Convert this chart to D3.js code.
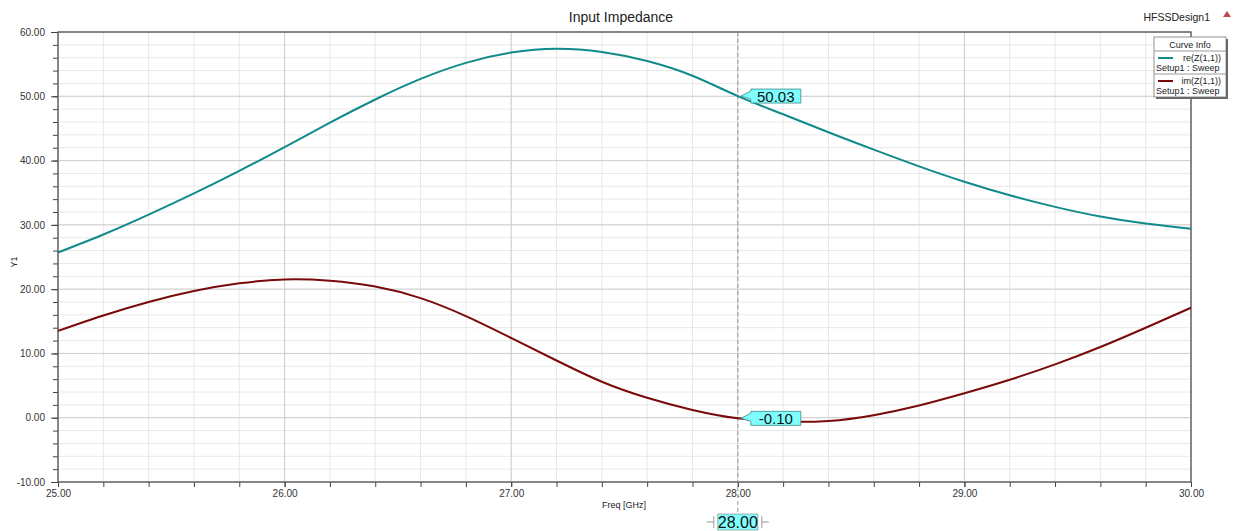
<html>
<head>
<meta charset="utf-8">
<script src="https://cdn.jsdelivr.net/npm/d3@7"></script>
<style>
body { margin:0; background:#fff; }
text { font-family: "Liberation Sans", Arial, sans-serif; }
</style>
</head>
<body>
<svg id="chart" width="1235" height="531"></svg>
<script>
// frequency samples (GHz)
var freq = [25.0,25.2,25.4,25.6,25.8,26.0,26.2,26.4,26.6,26.8,27.0,27.2,27.4,27.6,27.8,28.0,28.2,28.4,28.6,28.8,29.0,29.2,29.4,29.6,29.8,30.0];
// re(Z(1,1))
var reZ = [25.7,28.5,31.6,34.9,38.4,42.1,45.9,49.5,52.7,55.2,56.8,57.4,56.9,55.5,53.2,50.03,47.2,44.4,41.7,39.1,36.7,34.6,32.8,31.3,30.2,29.4];
// im(Z(1,1))
var imZ = [13.5,15.9,18.0,19.7,20.9,21.5,21.3,20.4,18.6,15.8,12.4,8.9,5.6,3.1,1.2,-0.10,-0.6,-0.5,0.4,1.9,3.8,5.9,8.3,11.0,14.0,17.1];
var xMajor = [25,26,27,28,29,30];
var yMajor = [-10,0,10,20,30,40,50,60];
var markerFreq = 28.0;

var width = 1235, height = 531;
var margin = {top: 32, right: 44, bottom: 49, left: 58};
var svg = d3.select("#chart");

var x = d3.scaleLinear().domain([25, 30]).range([margin.left, width - margin.right]);
var y = d3.scaleLinear().domain([-10, 60]).range([height - margin.bottom, margin.top]);

var xMinor = d3.range(25, 30.001, 0.2);
var yMinor = d3.range(-10, 60.001, 2);

// grid
var grid = svg.append("g");
grid.selectAll(".vmin").data(xMinor).enter().append("line")
	.attr("x1", d => x(d)).attr("x2", d => x(d))
	.attr("y1", y(60)).attr("y2", y(-10))
	.style("stroke", "#e8e8e8");
grid.selectAll(".hmin").data(yMinor).enter().append("line")
	.attr("y1", d => y(d)).attr("y2", d => y(d))
	.attr("x1", x(25)).attr("x2", x(30))
	.style("stroke", "#e8e8e8");
grid.selectAll(".vmaj").data(xMajor).enter().append("line")
	.attr("x1", d => x(d)).attr("x2", d => x(d))
	.attr("y1", y(60)).attr("y2", y(-10))
	.style("stroke", "#cfcfcf");
grid.selectAll(".hmaj").data(yMajor).enter().append("line")
	.attr("y1", d => y(d)).attr("y2", d => y(d))
	.attr("x1", x(25)).attr("x2", x(30))
	.style("stroke", "#cfcfcf");

// axes (plain hyphen minus like the original)
var fmt = d3.formatLocale({decimal: ".", thousands: ",", grouping: [3], currency: ["", ""], minus: "-"}).format(".2f");
function styleAxis(g) {
	g.select(".domain").remove();
	g.selectAll("line").style("stroke", "#444");
	g.selectAll("text").style("font-size", "10px").style("fill", "#333")
		.style("font-family", "'Liberation Sans', Arial, sans-serif");
}
svg.append("g").attr("transform", "translate(" + margin.left + ",0)")
	.call(d3.axisLeft(y).tickValues(yMinor).tickSize(5).tickFormat(""))
	.call(styleAxis);
svg.append("g").attr("transform", "translate(" + margin.left + ",0)")
	.call(d3.axisLeft(y).tickValues(yMajor).tickSize(7).tickPadding(6).tickFormat(fmt))
	.call(styleAxis);
svg.append("g").attr("transform", "translate(0," + y(-10) + ")")
	.call(d3.axisBottom(x).tickValues(xMinor).tickSize(5).tickFormat(""))
	.call(styleAxis);
svg.append("g").attr("transform", "translate(0," + y(-10) + ")")
	.call(d3.axisBottom(x).tickValues(xMajor).tickSize(5).tickPadding(3).tickFormat(fmt))
	.call(styleAxis);

// frame
svg.append("rect")
	.attr("x", x(25)).attr("y", y(60))
	.attr("width", x(30) - x(25)).attr("height", y(-10) - y(60))
	.style("fill", "none").style("stroke", "#555").style("stroke-width", 1.3);

// marker line
svg.append("line")
	.attr("x1", x(markerFreq)).attr("x2", x(markerFreq))
	.attr("y1", y(60)).attr("y2", 530)
	.style("stroke", "#999").style("stroke-dasharray", "4,3");

// curves
var line = d3.line()
	.x((d, i) => x(freq[i]))
	.y(d => y(d))
	.curve(d3.curveNatural);
svg.append("path").datum(reZ)
	.attr("d", line).style("fill", "none")
	.style("stroke", "#108a8a").style("stroke-width", 2);
svg.append("path").datum(imZ)
	.attr("d", line).style("fill", "none")
	.style("stroke", "#7a0a0a").style("stroke-width", 2);

// marker value labels
function markerLabel(val) {
	var px = x(markerFreq) + 3, py = y(val);
	var g = svg.append("g").attr("transform", "translate(" + px + "," + py + ")");
	var w = 50, h = 14;
	g.append("path")
		.attr("d", "M0,0 L10,-5 L10," + (-h/2) + " L" + (10 + w) + "," + (-h/2) +
			" L" + (10 + w) + "," + (h/2) + " L10," + (h/2) + " L10,3 Z")
		.style("fill", "#7fffff").style("stroke", "#3a8a8a").style("stroke-width", 0.8);
	g.append("text")
		.attr("x", 10 + w/2).attr("y", 5.5)
		.attr("text-anchor", "middle")
		.style("font-size", "15px").style("fill", "#111")
		.text(fmt(val));
}
markerLabel(reZ[freq.indexOf(markerFreq)]);
markerLabel(imZ[freq.indexOf(markerFreq)]);

// bottom marker freq label
var mx = x(markerFreq);
var bm = svg.append("g");
bm.append("rect").attr("x", mx - 20).attr("y", 514).attr("width", 40).attr("height", 16)
	.style("fill", "#7fffff").style("stroke", "#999").style("stroke-width", 0.8);
bm.append("text").attr("x", mx).attr("y", 528).attr("text-anchor", "middle")
	.style("font-size", "16px").style("fill", "#111").text(fmt(markerFreq));
[[-31, -24, -24], [31, 24, 24]].forEach(function(s) {
	bm.append("line").attr("x1", mx + s[0]).attr("x2", mx + s[1]).attr("y1", 522).attr("y2", 522)
		.style("stroke", "#999");
	bm.append("line").attr("x1", mx + s[2]).attr("x2", mx + s[2]).attr("y1", 516).attr("y2", 528)
		.style("stroke", "#999");
});

// titles
svg.append("text").attr("x", 621).attr("y", 22).attr("text-anchor", "middle")
	.style("font-size", "14px").style("fill", "#222").text("Input Impedance");
svg.append("text").attr("x", 1210).attr("y", 21).attr("text-anchor", "end")
	.style("font-size", "10.5px").style("fill", "#222").text("HFSSDesign1");
svg.append("path").attr("d", "M1227,11 L1231,17 L1223,17 Z").style("fill", "#c04a4a");
svg.append("text").attr("x", 602).attr("y", 508)
	.style("font-size", "9px").style("fill", "#222").text("Freq [GHz]");
svg.append("text").attr("transform", "translate(17,262) rotate(-90)")
	.attr("text-anchor", "middle")
	.style("font-size", "9px").style("fill", "#222").text("Y1");

// legend
var leg = svg.append("g");
leg.append("rect").attr("x", 1156).attr("y", 39).attr("width", 72).attr("height", 60).style("fill", "#666");
leg.append("rect").attr("x", 1154).attr("y", 37).attr("width", 72).attr("height", 60)
	.style("fill", "#fff").style("stroke", "#777").style("stroke-width", 0.8);
leg.append("text").attr("x", 1190).attr("y", 47.5).attr("text-anchor", "middle")
	.style("font-size", "9px").style("fill", "#222").text("Curve Info");
leg.append("line").attr("x1", 1154).attr("x2", 1226).attr("y1", 51).attr("y2", 51).style("stroke", "#999");
leg.append("line").attr("x1", 1154).attr("x2", 1226).attr("y1", 74).attr("y2", 74).style("stroke", "#999");
var legItems = [
	{name: "re(Z(1,1))", color: "#108a8a", y0: 51},
	{name: "im(Z(1,1))", color: "#7a0a0a", y0: 74}
];
legItems.forEach(function(d) {
	leg.append("line").attr("x1", 1158).attr("x2", 1173).attr("y1", d.y0 + 7).attr("y2", d.y0 + 7)
		.style("stroke", d.color).style("stroke-width", 2);
	leg.append("text").attr("x", 1221).attr("y", d.y0 + 10).attr("text-anchor", "end")
		.style("font-size", "9px").style("fill", "#222").text(d.name);
	leg.append("text").attr("x", 1156).attr("y", d.y0 + 19.5)
		.style("font-size", "9px").style("fill", "#222").text("Setup1 : Sweep");
});
</script>
</body>
</html>
